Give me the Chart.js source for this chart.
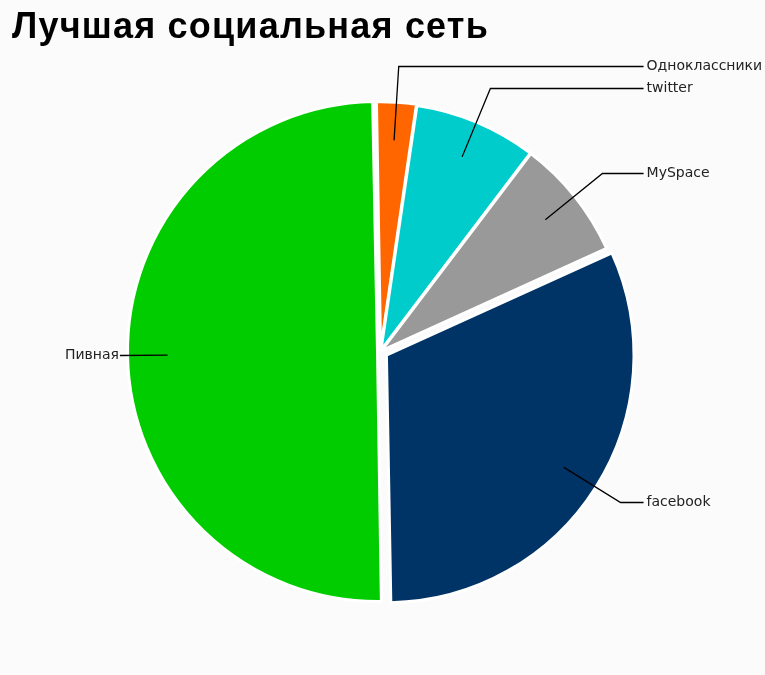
<!DOCTYPE html>
<html>
<head>
<meta charset="utf-8">
<script src="https://cdn.jsdelivr.net/npm/chart.js@4/dist/chart.umd.min.js"></script>
<style>
  html, body { margin: 0; padding: 0; background: #fbfbfb; }
  #wrap { width: 765px; height: 675px; }
</style>
</head>
<body>
<div id="wrap"><canvas id="c" width="765" height="675"></canvas></div>
<script>
const categories = ['Одноклассники', 'twitter', 'MySpace', 'facebook', 'Пивная'];
const shares = [2.6, 8.0, 7.9, 31.5, 50.0];
const sliceColors = ['#ff6600', '#00cccc', '#999999', '#003366', '#00cc00'];
const sliceOffsets = [6, 4, 4, 28, 12];
const chartTitle = 'Лучшая социальная сеть';

const calloutPlugin = {
  id: 'callouts',
  afterDatasetsDraw(chart) {
    const ctx = chart.ctx;
    const meta = chart.getDatasetMeta(0);
    ctx.save();
    ctx.strokeStyle = '#000000';
    ctx.lineWidth = 1.3;
    ctx.fillStyle = '#222222';
    ctx.font = '14px "DejaVu Sans", Verdana, sans-serif';
    ctx.textBaseline = 'middle';
    meta.data.forEach((arc, i) => {
      const p = arc.getProps(['x', 'y', 'startAngle', 'endAngle', 'outerRadius'], true);
      const R = p.outerRadius;
      const mid = (p.startAngle + p.endAngle) / 2;
      const cx = Math.cos(mid), cy = Math.sin(mid);
      const off = (arc.options.offset || 0) / 4;
      const inner = { x: p.x + cx * (off + 0.85 * R), y: p.y + cy * (off + 0.85 * R) };
      const elbow = { x: p.x + cx * 1.15 * R, y: Math.round(p.y + cy * 1.15 * R - 1.5) + 0.5 };
      const right = cx >= 0;
      const lineEndX = right ? p.x + 1.065 * R : p.x - 1.055 * R;
      if (!right && elbow.x < lineEndX) elbow.x = lineEndX;
      if (right && elbow.x > lineEndX) elbow.x = lineEndX;
      ctx.beginPath();
      ctx.moveTo(inner.x, inner.y);
      ctx.lineTo(elbow.x, elbow.y);
      ctx.lineTo(lineEndX, elbow.y);
      ctx.stroke();
      ctx.textAlign = right ? 'left' : 'right';
      ctx.fillText(chart.data.labels[i], right ? lineEndX + 3 : lineEndX - 1, elbow.y);
    });
    ctx.restore();
  }
};

const bgPlugin = {
  id: 'bg',
  beforeDraw(chart) {
    const ctx = chart.ctx;
    ctx.save();
    ctx.fillStyle = '#fbfbfb';
    ctx.fillRect(0, 0, chart.width, chart.height);
    ctx.restore();
    ctx.letterSpacing = '1.2px';
  },
  beforeDatasetsDraw(chart) {
    chart.ctx.letterSpacing = '0px';
  }
};

new Chart(document.getElementById('c'), {
  type: 'pie',
  data: {
    labels: categories,
    datasets: [{
      data: shares,
      backgroundColor: sliceColors,
      borderColor: '#ffffff',
      borderWidth: 3,
      offset: sliceOffsets,
      radius: 247
    }]
  },
  options: {
    responsive: false,
    devicePixelRatio: 1,
    animation: false,
    rotation: -1,
    layout: { padding: { left: 12, right: 16, top: 0, bottom: 19 } },
    plugins: {
      legend: { display: false },
      tooltip: { enabled: false },
      title: {
        display: true,
        text: chartTitle,
        align: 'start',
        color: '#000000',
        font: { family: '"Liberation Sans", Arial, sans-serif', size: 36, weight: 'bold', lineHeight: 1.05 },
        padding: { top: 9, bottom: 0 }
      }
    }
  },
  plugins: [bgPlugin, calloutPlugin]
});
</script>
</body>
</html>
